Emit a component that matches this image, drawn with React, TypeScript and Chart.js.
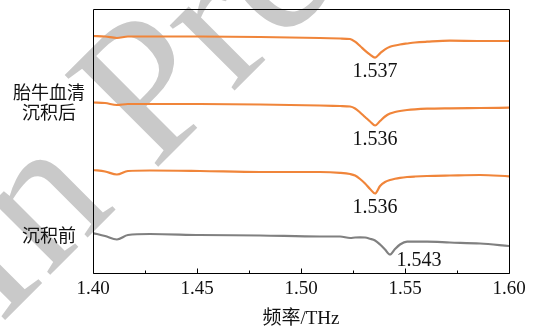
import { useEffect, useRef } from "react";
import { Chart, registerables } from "chart.js";

Chart.register(...registerables);

// Frequency samples (THz)
const FREQ = [
  1.4, 1.4058, 1.4115, 1.4168, 1.4274, 1.4514, 1.4803, 1.5091, 1.5188, 1.5236,
  1.526, 1.5284, 1.5308, 1.5332, 1.5356, 1.538, 1.5404, 1.5428, 1.5452, 1.5476,
  1.551, 1.5548, 1.5606, 1.5716, 1.5861, 1.6,
];

// Offset transmission spectra (a.u.)
const AFTER_1 = [
  237, 236.5, 235, 236.5, 236.5, 236.5, 236, 235, 234.5, 234,
  231.3, 227, 222.3, 218.3, 215.3, 219.7, 223.7, 226.3, 227.5, 228.5,
  229.5, 230.5, 231.3, 232.3, 232, 232,
];
const AFTER_2 = [
  170.5, 170, 168, 169, 169, 169, 168.5, 167.5, 167, 166.5,
  164.5, 160.5, 156, 151.5, 147.5, 152, 156.5, 159.5, 161, 162,
  163, 163.7, 164.3, 164.7, 165, 165.3,
];
const AFTER_3 = [
  103, 101.5, 98.5, 102, 102.5, 102, 101, 101, 100.2, 99,
  97.5, 94, 89.5, 84, 79.5, 87, 91, 93, 94.3, 95.2,
  96, 96.5, 97, 97.5, 98, 96.7,
];
const BEFORE = [
  40, 37, 33.5, 38, 39, 38, 37.5, 36.5, 36.5, 35,
  35.5, 35.7, 35.5, 34.2, 32.5, 28.5, 23.5, 18.5, 24, 28.5,
  31.3, 31.3, 31.3, 30.5, 29.5, 27,
];

const SERIES = [AFTER_1, AFTER_2, AFTER_3, BEFORE];
const SERIES_COLORS = ["#f0853a", "#f0853a", "#f0853a", "#808080"];
const DIP_LABELS = ["1.537", "1.536", "1.536", "1.543"];
const X_TICKS = [1.4, 1.45, 1.5, 1.55, 1.6];
const X_TITLE = "频率/THz";
const GROUP_LABEL_AFTER = ["胎牛血清", "沉积后"];
const GROUP_LABEL_BEFORE = "沉积前";
const WATERMARK = "In Press";

const SERIF = '"Liberation Serif", "Noto Sans CJK SC", serif';

const decoPlugin = {
  id: "deco",
  beforeDraw(chart: any) {
    const ctx = chart.ctx as CanvasRenderingContext2D;
    ctx.save();
    ctx.fillStyle = "#ffffff";
    ctx.fillRect(0, 0, chart.width, chart.height);
    ctx.translate(0, 325);
    ctx.rotate(-Math.PI / 4);
    ctx.font = '200px "Liberation Serif"';
    ctx.fillStyle = "#c9c9c9";
    ctx.textBaseline = "alphabetic";
    ctx.fillText(WATERMARK, 0, 0);
    ctx.restore();
  },
  afterDatasetsDraw(chart: any) {
    const ctx = chart.ctx as CanvasRenderingContext2D;
    const { left, right, top, bottom } = chart.chartArea;
    const xs = chart.scales.x;
    const ys = chart.scales.y;
    ctx.save();
    // frame
    ctx.strokeStyle = "#000";
    ctx.lineWidth = 1;
    const L = Math.round(left) + 0.5;
    const R = Math.round(right) + 0.5;
    const T = Math.round(top) + 0.5;
    const B = Math.round(bottom) + 0.5;
    ctx.beginPath();
    ctx.moveTo(L, T);
    ctx.lineTo(R, T);
    ctx.lineTo(R, B);
    ctx.lineTo(L, B);
    ctx.closePath();
    ctx.stroke();
    // inward ticks
    ctx.beginPath();
    for (let i = 0; i < X_TICKS.length; i++) {
      const px = Math.round(xs.getPixelForValue(X_TICKS[i])) + 0.5;
      ctx.moveTo(px, B);
      ctx.lineTo(px, B - 5);
      if (i < X_TICKS.length - 1) {
        const mid = (X_TICKS[i] + X_TICKS[i + 1]) / 2;
        const mx = Math.round(xs.getPixelForValue(mid)) + 0.5;
        ctx.moveTo(mx, B);
        ctx.lineTo(mx, B - 3);
      }
    }
    ctx.stroke();
    // dip labels
    ctx.fillStyle = "#111";
    ctx.font = "20px " + SERIF;
    ctx.textAlign = "center";
    ctx.textBaseline = "middle";
    SERIES.forEach((vals, si) => {
      let mi = 0;
      vals.forEach((v, i) => {
        if (v < vals[mi]) mi = i;
      });
      const px = xs.getPixelForValue(FREQ[mi]);
      const py = ys.getPixelForValue(vals[mi]);
      const isBefore = si === SERIES.length - 1;
      const dx = isBefore ? 29 : 0;
      const dy = isBefore ? 6 : 14.5;
      ctx.fillText(DIP_LABELS[si], px + dx, py + dy);
    });
    // group labels
    ctx.font = '18px "Noto Sans CJK SC"';
    ctx.fillText(GROUP_LABEL_AFTER[0], 49, 92);
    ctx.fillText(GROUP_LABEL_AFTER[1], 49, 112);
    ctx.fillText(GROUP_LABEL_BEFORE, 49, 235);
    ctx.restore();
  },
};

export default function App() {
  const ref = useRef<HTMLCanvasElement | null>(null);
  useEffect(() => {
    if (!ref.current) return;
    const chart = new Chart(ref.current, {
      type: "line",
      data: {
        datasets: SERIES.map((vals, si) => ({
          data: FREQ.map((f, i) => ({ x: f, y: vals[i] })),
          borderColor: SERIES_COLORS[si],
          borderWidth: 2.2,
          pointRadius: 0,
          fill: false,
          cubicInterpolationMode: "monotone" as const,
        })),
      },
      options: {
        animation: false,
        responsive: false,
        devicePixelRatio: 1,
        layout: { padding: { left: 93, right: 25, top: 9, bottom: 0 } },
        plugins: {
          legend: { display: false },
          tooltip: { enabled: false },
        },
        scales: {
          x: {
            type: "linear",
            min: 1.4,
            max: 1.6,
            afterFit: (s: any) => {
              s.height = 53;
            },
            afterBuildTicks: (s: any) => {
              s.ticks = X_TICKS.map((v) => ({ value: v }));
            },
            grid: { display: false, drawTicks: false },
            border: { display: false },
            ticks: {
              padding: 5,
              color: "#111",
              font: { family: SERIF, size: 19 },
              maxRotation: 0,
              autoSkip: false,
              callback: (v: any) => Number(v).toFixed(2),
            },
            title: {
              display: true,
              text: X_TITLE,
              color: "#111",
              font: { family: SERIF, size: 19, lineHeight: 1 },
              padding: { top: 0, bottom: -3 },
            },
          },
          y: {
            display: false,
            min: 0,
            max: 264,
          },
        },
      },
      plugins: [decoPlugin],
    });
    return () => chart.destroy();
  }, []);
  return (
    <div style={{ position: "absolute", left: 0, top: 0, width: 534, height: 326 }}>
      <canvas ref={ref} width={534} height={326} style={{ width: 534, height: 326 }} />
    </div>
  );
}
